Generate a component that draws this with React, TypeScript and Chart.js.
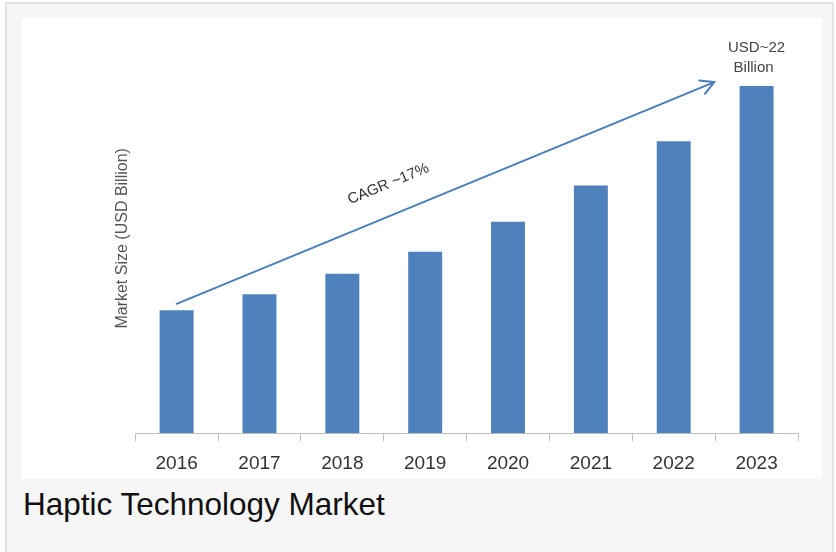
import { useEffect, useRef } from "react";
import { Chart, registerables } from "chart.js";

Chart.register(...registerables);

const categories = ["2016", "2017", "2018", "2019", "2020", "2021", "2022", "2023"];
const marketSize = [7.8, 8.8, 10.1, 11.5, 13.4, 15.7, 18.5, 22.0];
const endLabelLines = ["USD~22", "Billion"];
const cagrLabel = "CAGR ~17%";
const arrowStart = { index: 0, value: 8.2 };
const arrowEnd = { index: 6.49, value: 22.25 };
const yTitle = "Market Size (USD Billion)";
const caption = "Haptic Technology Market";

const FONT = "'Liberation Sans', Arial, Helvetica, sans-serif";
const BLUE = "#4f81bd";

const overlayPlugin = {
  id: "overlay",
  afterDatasetsDraw(chart: any) {
    const { ctx } = chart;
    const xs = chart.scales.x;
    const ys = chart.scales.y;
    const x1 = xs.getPixelForValue(arrowStart.index);
    const y1 = ys.getPixelForValue(arrowStart.value);
    const x2 = xs.getPixelForValue(arrowEnd.index);
    const y2 = ys.getPixelForValue(arrowEnd.value);
    const a = Math.atan2(y2 - y1, x2 - x1);

    ctx.save();
    ctx.strokeStyle = "#4a7ebb";
    ctx.lineWidth = 2;
    ctx.lineCap = "round";
    ctx.beginPath();
    ctx.moveTo(x1, y1);
    ctx.lineTo(x2, y2);
    const hl = 15;
    const spread = 0.5;
    ctx.moveTo(x2 - hl * Math.cos(a - spread), y2 - hl * Math.sin(a - spread));
    ctx.lineTo(x2, y2);
    ctx.lineTo(x2 - hl * Math.cos(a + spread), y2 - hl * Math.sin(a + spread));
    ctx.stroke();

    // CAGR label along the arrow
    const t = 0.415;
    const px = x1 + (x2 - x1) * t;
    const py = y1 + (y2 - y1) * t;
    const nx = Math.sin(a);
    const ny = -Math.cos(a);
    ctx.translate(px + nx * 30, py + ny * 30);
    ctx.rotate(a);
    ctx.fillStyle = "#333333";
    ctx.font = `15px ${FONT}`;
    ctx.textAlign = "center";
    ctx.textBaseline = "middle";
    ctx.fillText(cagrLabel, 0, 0);
    ctx.restore();

    // end value label above last bar
    const meta = chart.getDatasetMeta(0);
    const bar = meta.data[meta.data.length - 1];
    ctx.save();
    ctx.fillStyle = "#444444";
    ctx.font = `15px ${FONT}`;
    ctx.textAlign = "center";
    ctx.textBaseline = "middle";
    ctx.fillText(endLabelLines[0], bar.x, bar.y - 38);
    ctx.fillText(endLabelLines[1], bar.x - 3, bar.y - 18);
    ctx.restore();
  },
};

export default function App() {
  const ref = useRef<HTMLCanvasElement | null>(null);

  useEffect(() => {
    if (!ref.current) return;
    Chart.defaults.font.family = FONT;
    const chart = new Chart(ref.current, {
      type: "bar",
      data: {
        labels: categories,
        datasets: [
          {
            data: marketSize,
            backgroundColor: BLUE,
            borderWidth: 0,
            categoryPercentage: 1,
            barPercentage: 0.41,
          },
        ],
      },
      options: {
        responsive: false,
        animation: false,
        events: [],
        layout: { padding: { left: 88, right: 24, top: 25.5, bottom: -6 } },
        plugins: { legend: { display: false }, tooltip: { enabled: false } },
        scales: {
          x: {
            grid: {
              display: true,
              drawOnChartArea: false,
              drawTicks: true,
              tickLength: 8,
              color: "#bfbfbf",
              offset: true,
            },
            border: { display: true, color: "#bfbfbf", width: 1 },
            ticks: {
              color: "#333333",
              font: { family: FONT, size: 19 },
              padding: 11.5,
              maxRotation: 0,
            },
          },
          y: {
            min: 0,
            max: 24.7,
            grid: { display: false, drawTicks: false },
            border: { display: false },
            ticks: { display: false },
            title: {
              display: true,
              text: yTitle,
              color: "#555555",
              font: { family: FONT, size: 16 },
              padding: { top: 3.5, bottom: 3.5 },
            },
          },
        },
      },
      plugins: [overlayPlugin],
    });
    return () => chart.destroy();
  }, []);

  return (
    <div
      style={{
        position: "fixed",
        left: 0,
        top: 0,
        width: 836,
        height: 552,
        background: "#ffffff",
        overflow: "hidden",
      }}
    >
      <div
        style={{
          position: "absolute",
          left: 5,
          top: 2,
          width: 825,
          height: 600,
          background: "#f6f6f6",
          borderLeft: "2px solid #e2e2e2",
          borderTop: "2px solid #e2e2e2",
          borderRight: "2px solid #e2e2e2",
        }}
      />
      <div
        style={{
          position: "absolute",
          left: 21,
          top: 18,
          width: 801,
          height: 461,
          background: "#ffffff",
        }}
      />
      <canvas
        ref={ref}
        width={801}
        height={463}
        style={{ display: "block", position: "absolute", left: 21, top: 18 }}
      />
      <div
        style={{
          position: "absolute",
          left: 23,
          top: 489,
          fontFamily: FONT,
          fontSize: 31.5,
          lineHeight: "31.5px",
          color: "#111111",
          whiteSpace: "nowrap",
        }}
      >
        {caption}
      </div>
    </div>
  );
}
